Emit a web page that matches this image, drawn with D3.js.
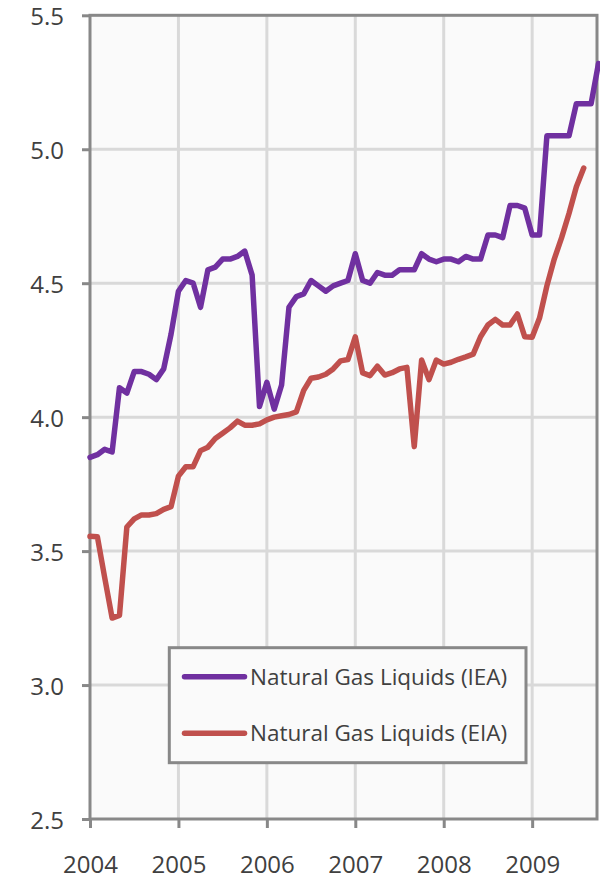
<!DOCTYPE html>
<html>
<head>
<meta charset="utf-8">
<script src="https://cdn.jsdelivr.net/npm/d3@7"></script>
<style>
  body { margin: 0; background: #fff; }
  svg { display: block; font-family: 'Open Sans', sans-serif; }
</style>
</head>
<body>
<svg width="600" height="880"></svg>
<script>
"use strict";

// monthly values, Jan 2004 onwards
const iea = [
  3.85, 3.86, 3.88, 3.87, 4.11, 4.09, 4.17, 4.17, 4.16, 4.14, 4.18, 4.31,
  4.47, 4.51, 4.50, 4.41, 4.55, 4.56, 4.59, 4.59, 4.60, 4.62, 4.53, 4.04,
  4.13, 4.03, 4.12, 4.41, 4.45, 4.46, 4.51, 4.49, 4.47, 4.49, 4.50, 4.51,
  4.61, 4.51, 4.50, 4.54, 4.53, 4.53, 4.55, 4.55, 4.55, 4.61, 4.59, 4.58,
  4.59, 4.59, 4.58, 4.60, 4.59, 4.59, 4.68, 4.68, 4.67, 4.79, 4.79, 4.78,
  4.68, 4.68, 5.05, 5.05, 5.05, 5.05, 5.17, 5.17, 5.17, 5.32
];
const eia = [
  3.555, 3.554, 3.40, 3.25, 3.26, 3.59, 3.62, 3.635, 3.635, 3.64, 3.656, 3.666,
  3.78, 3.815, 3.815, 3.875, 3.888, 3.92, 3.94, 3.96, 3.985, 3.97, 3.97, 3.975,
  3.99, 4.00, 4.005, 4.01, 4.02, 4.10, 4.145, 4.15, 4.16, 4.18, 4.21, 4.215,
  4.30, 4.165, 4.155, 4.19, 4.157, 4.166, 4.18, 4.186, 3.89, 4.213, 4.14, 4.213,
  4.198, 4.205, 4.216, 4.225, 4.235, 4.30, 4.344, 4.365, 4.344, 4.344, 4.385, 4.30,
  4.298, 4.37, 4.49, 4.59, 4.67, 4.76, 4.86, 4.93
];
const years = [2004, 2005, 2006, 2007, 2008, 2009];
const yTicks = [2.5, 3.0, 3.5, 4.0, 4.5, 5.0, 5.5];
const seriesNames = ['Natural Gas Liquids (IEA)', 'Natural Gas Liquids (EIA)'];
const seriesColors = ['#7030a0', '#c0504d'];

const svg = d3.select('svg');
const plotLeft = 90;
const plotRight = 597;
const plotTop = 15.3;
const plotBottom = 819;
const axisColor = '#888';
const gridColor = '#d9d9d9';
const textColor = '#404040';

const x = d3.scaleLinear().domain([0, 68.8]).range([plotLeft, plotRight]);
const y = d3.scaleLinear().domain([2.5, 5.5]).range([plotBottom, plotTop]);

// plot background
svg.append('rect')
    .attr('x', plotLeft).attr('y', plotTop)
    .attr('width', plotRight - plotLeft).attr('height', plotBottom - plotTop)
    .attr('fill', '#fafafa');

// gridlines
svg.append('g')
    .selectAll('line')
    .data(yTicks.slice(1, -1))
    .join('line')
    .attr('x1', plotLeft).attr('x2', plotRight)
    .attr('y1', d => y(d)).attr('y2', d => y(d))
    .attr('stroke', gridColor).attr('stroke-width', 3);

svg.append('g')
    .selectAll('line')
    .data(years.slice(1))
    .join('line')
    .attr('x1', d => x((d - 2004) * 12)).attr('x2', d => x((d - 2004) * 12))
    .attr('y1', plotTop).attr('y2', plotBottom)
    .attr('stroke', gridColor).attr('stroke-width', 3);

// axes
const yAxis = svg.append('g')
    .attr('transform', `translate(${plotLeft},0)`)
    .call(d3.axisLeft(y).tickValues(yTicks).tickFormat(d3.format('.1f')).tickSize(8).tickPadding(18));

const xAxis = svg.append('g')
    .attr('transform', `translate(0,${plotBottom})`)
    .call(d3.axisBottom(x).tickValues(years.map(d => (d - 2004) * 12))
        .tickFormat((d, i) => years[i]).tickSize(9).tickPadding(28));

[yAxis, xAxis].forEach(a => {
    a.select('.domain').remove();
    a.selectAll('line').attr('stroke', axisColor).attr('stroke-width', 3);
    a.selectAll('text')
        .attr('fill', textColor)
        .style('font-size', '24px')
        .style('font-family', "'Open Sans', sans-serif");
});
yAxis.selectAll('text').attr('dy', '0.4em');

// plot frame
svg.append('rect')
    .attr('x', plotLeft).attr('y', plotTop)
    .attr('width', plotRight - plotLeft).attr('height', plotBottom - plotTop)
    .attr('fill', 'none')
    .attr('stroke', axisColor).attr('stroke-width', 3);

// lines
const line = d3.line()
    .x((d, i) => x(i))
    .y(d => y(d));

[iea, eia].forEach((s, k) => {
    svg.append('path')
        .datum(s)
        .attr('d', line)
        .attr('fill', 'none')
        .attr('stroke', seriesColors[k])
        .attr('stroke-width', 5.5)
        .attr('stroke-linejoin', 'round')
        .attr('stroke-linecap', 'round');
});

// legend
const legend = svg.append('g');
legend.append('rect')
    .attr('x', 169.3).attr('y', 647.7)
    .attr('width', 356.7).attr('height', 115)
    .attr('fill', '#fafafa')
    .attr('stroke', axisColor).attr('stroke-width', 3);

const items = legend.selectAll('g.item')
    .data(seriesNames)
    .join('g')
    .attr('class', 'item')
    .attr('transform', (d, i) => `translate(0,${676.7 + i * 56.6})`);

items.append('line')
    .attr('x1', 184.5).attr('x2', 244.5)
    .attr('stroke', (d, i) => seriesColors[i])
    .attr('stroke-width', 5.5)
    .attr('stroke-linecap', 'round');

items.append('text')
    .attr('x', 250)
    .attr('dy', '0.36em')
    .attr('fill', textColor)
    .style('font-size', '22.5px')
    .text(d => d);
</script>
</body>
</html>
